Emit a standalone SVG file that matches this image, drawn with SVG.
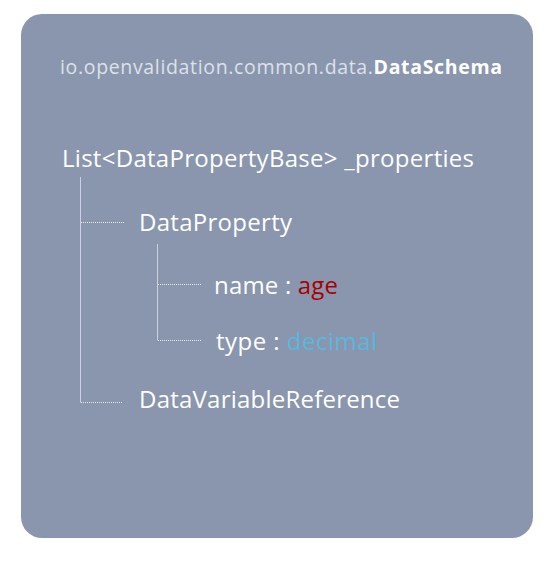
<svg xmlns="http://www.w3.org/2000/svg" width="549" height="561" viewBox="0 0 549 561">
<style>
.t{font-family:"Open Sans","Liberation Sans",sans-serif;fill:#ffffff;font-variant-ligatures:none}
.big{font-size:24px}
.hdr{font-size:19.5px}
.stem{stroke:#ccd1dc;stroke-width:1;fill:none}
.dot{stroke:#e6e9ef;stroke-width:1;stroke-dasharray:1 1;fill:none}
</style>
<rect x="21" y="14" width="512" height="524" rx="21" ry="21" fill="#8996ae"/>
<g id="header">
<text class="t hdr" x="60" y="74" textLength="442"><tspan fill="#dde1e9">io.openvalidation.common.data.</tspan><tspan font-weight="bold">DataSchema</tspan></text>
</g>
<g id="connectors">
<path class="stem" d="M80.5 177V402.5"/>
<path class="stem" d="M157.5 244V340.5"/>
<path class="dot" d="M81 222.5H124"/>
<path class="dot" d="M158 284.5H201"/>
<path class="dot" d="M158 340.5H201"/>
<path class="dot" d="M81 402.5H123"/>
</g>
<g id="properties">
<text class="t big" x="62" y="167" textLength="412">List&lt;DataPropertyBase&gt; _properties</text>
</g>
<g id="dataProperty">
<text class="t big" x="139" y="231" textLength="153">DataProperty</text>
</g>
<g id="name">
<text class="t big" x="214" y="294" textLength="124">name : <tspan fill="#a80000">age</tspan></text>
</g>
<g id="type">
<text class="t big" x="216" y="350" textLength="161">type : <tspan fill="#5ab8dc">decimal</tspan></text>
</g>
<g id="dataVariableReference">
<text class="t big" x="139" y="408" textLength="261">DataVariableReference</text>
</g>
</svg>
